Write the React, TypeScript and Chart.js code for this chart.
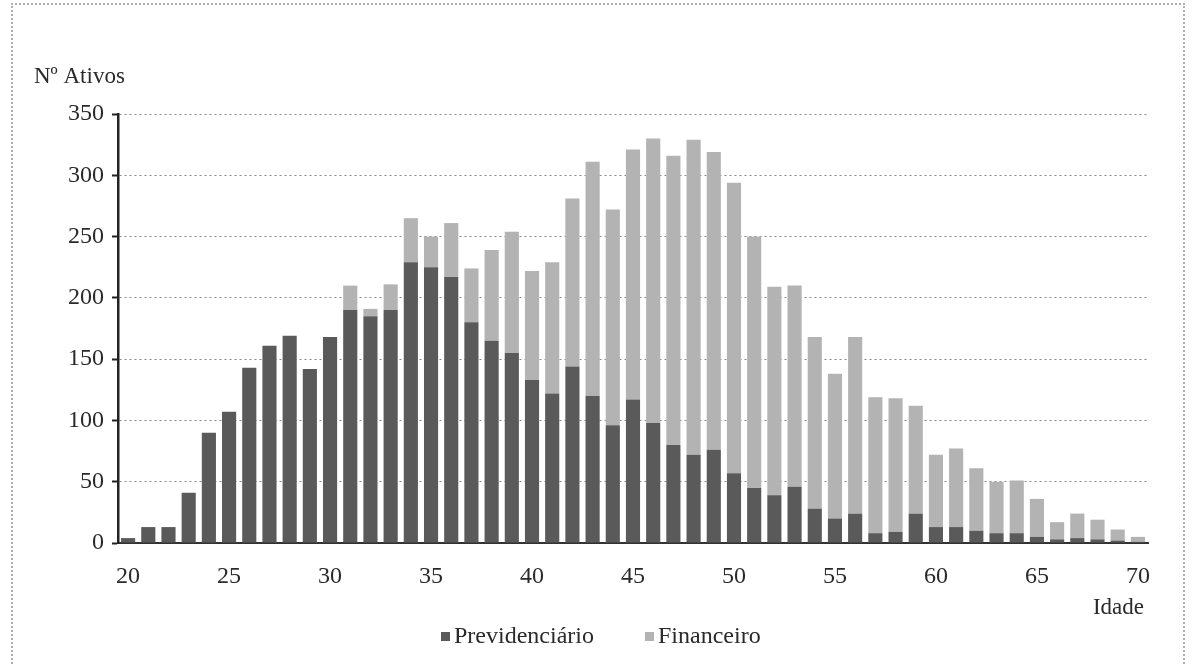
import React, { useEffect, useRef } from "react";
import { Chart, registerables } from "chart.js";

Chart.register(...registerables);

const ages = [
  "20", "21", "22", "23", "24", "25", "26", "27", "28", "29",
  "30", "31", "32", "33", "34", "35", "36", "37", "38", "39",
  "40", "41", "42", "43", "44", "45", "46", "47", "48", "49",
  "50", "51", "52", "53", "54", "55", "56", "57", "58", "59",
  "60", "61", "62", "63", "64", "65", "66", "67", "68", "69", "70",
];

const previdenciario = [
  4, 13, 13, 41, 90, 107, 143, 161, 169, 142,
  168, 190, 185, 190, 229, 225, 217, 180, 165, 155,
  133, 122, 144, 120, 96, 117, 98, 80, 72, 76,
  57, 45, 39, 46, 28, 20, 24, 8, 9, 24,
  13, 13, 10, 8, 8, 5, 3, 4, 3, 2, 1,
];

const financeiro = [
  0, 0, 0, 0, 0, 0, 0, 0, 0, 0,
  0, 20, 6, 21, 36, 25, 44, 44, 74, 99,
  89, 107, 137, 191, 176, 204, 232, 236, 257, 243,
  237, 205, 170, 164, 140, 118, 144, 111, 109, 88,
  59, 64, 51, 42, 43, 31, 14, 20, 16, 9, 4,
];

const yTicks = [0, 50, 100, 150, 200, 250, 300, 350];

const seriesNames = ["Previdenciário", "Financeiro"];
const yTitle = "Nº Ativos";
const xTitle = "Idade";

const PREV_COLOR = "#5a5a5a";
const FIN_COLOR = "#b3b3b3";
const FONT = '"Liberation Serif", "DejaVu Serif", serif';

const textPlugin = {
  id: "customText",
  afterDraw(chart: any) {
    const ctx = chart.ctx;
    const area = chart.chartArea;
    ctx.save();
    ctx.fillStyle = "#2a2a2a";
    ctx.font = `23px ${FONT}`;
    ctx.textBaseline = "middle";
    ctx.textAlign = "left";
    ctx.fillText(yTitle, 34, 77);
    ctx.textAlign = "right";
    ctx.fillText(xTitle, area.right - 4, 608);

    // legend
    const ly = 637;
    ctx.font = `24px ${FONT}`;
    const items = [
      { x: 441, color: PREV_COLOR, text: seriesNames[0] },
      { x: 645, color: FIN_COLOR, text: seriesNames[1] },
    ];
    ctx.textAlign = "left";
    for (const it of items) {
      ctx.fillStyle = it.color;
      ctx.fillRect(it.x, ly - 5, 9, 9);
      ctx.fillStyle = "#2a2a2a";
      ctx.fillText(it.text, it.x + 13, ly);
    }
    ctx.restore();
  },
};

export default function App() {
  const canvasRef = useRef<HTMLCanvasElement | null>(null);

  useEffect(() => {
    document.body.style.margin = "0";
    const canvas = canvasRef.current;
    if (!canvas) return;
    const chart = new Chart(canvas, {
      type: "bar",
      data: {
        labels: ages,
        datasets: [
          {
            label: seriesNames[0],
            data: previdenciario,
            backgroundColor: PREV_COLOR,
            borderWidth: 0,
            categoryPercentage: 1,
            barPercentage: 0.7,
          },
          {
            label: seriesNames[1],
            data: financeiro,
            backgroundColor: FIN_COLOR,
            borderWidth: 0,
            categoryPercentage: 1,
            barPercentage: 0.7,
          },
        ],
      },
      options: {
        animation: false,
        responsive: false,
        maintainAspectRatio: false,
        layout: { padding: { left: 0, right: 48, top: 114, bottom: 71 } },
        plugins: {
          legend: { display: false },
          tooltip: { enabled: false },
          title: { display: false },
        },
        scales: {
          x: {
            stacked: true,
            afterFit(scale: any) {
              scale.height = 50;
            },
            grid: { display: false, drawTicks: false },
            border: { display: true, color: "#333", width: 2 },
            ticks: {
              autoSkip: false,
              maxRotation: 0,
              minRotation: 0,
              padding: 19,
              color: "#2a2a2a",
              font: { family: FONT, size: 24 },
              callback: (_v: any, i: number) => (i % 5 === 0 ? ages[i] : ""),
            },
          },
          y: {
            stacked: true,
            min: 0,
            max: 350,
            afterFit(scale: any) {
              scale.width = 118;
            },
            afterBuildTicks(scale: any) {
              scale.ticks = yTicks.map((v) => ({ value: v }));
            },
            grid: {
              color: "#8a8a8a",
              lineWidth: 1,
              tickLength: 6,
              tickColor: "#222",
              tickWidth: 2,
            },
            border: { display: true, color: "#222", width: 2.5, dash: [2, 3] },
            ticks: {
              padding: 8,
              color: "#2a2a2a",
              font: { family: FONT, size: 24 },
            },
          },
        },
      },
      plugins: [textPlugin],
    } as any);
    return () => chart.destroy();
  }, []);

  return (
    <div style={{ position: "relative", width: 1196, height: 664, overflow: "hidden", background: "#fff" }}>
      <canvas ref={canvasRef} width={1196} height={664} style={{ display: "block" }} />
      <div
        style={{
          position: "absolute",
          left: 11,
          top: 3,
          width: 1170,
          height: 700,
          border: "2px dotted #b0b0b0",
          pointerEvents: "none",
        }}
      />
    </div>
  );
}
